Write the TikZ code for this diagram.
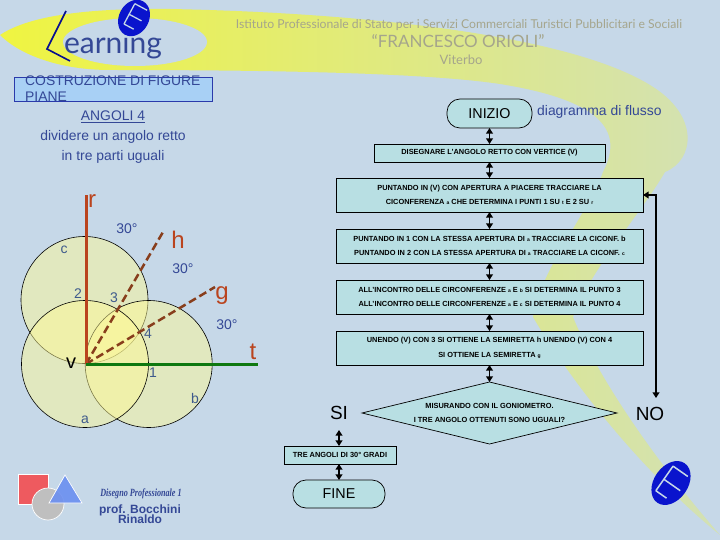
\documentclass[tikz,border=0pt]{standalone}
\usepackage{fontspec}
\setmainfont{Liberation Sans}
\newfontfamily\thinfont{Lato}
\newfontfamily\narrowfont[FakeStretch=0.74]{Liberation Serif}
\usetikzlibrary{shapes.geometric,arrows.meta,positioning,calc}
\definecolor{qsky}{RGB}{198,216,232}
\definecolor{qbox}{RGB}{184,223,227}
\definecolor{qink}{RGB}{52,72,150}
\definecolor{qlabel}{RGB}{62,90,140}
\definecolor{qrust}{RGB}{186,68,30}
\definecolor{qbrown}{RGB}{136,62,28}
\definecolor{qgreen}{RGB}{14,120,16}
\definecolor{qcircle}{RGB}{255,250,150}
\definecolor{qtitle}{RGB}{165,165,140}
\definecolor{qlogo}{RGB}{10,20,205}
\definecolor{qbanner}{RGB}{168,208,245}
\definecolor{qsquare}{RGB}{238,90,95}
\definecolor{qtriangle}{RGB}{107,143,240}

\newcommand{\tinyletter}[1]{{\fontsize{5}{5}\selectfont #1}}

\begin{document}
\begin{tikzpicture}[x=1pt, y=-1pt,
    stepbox/.style={draw, line width=0.8pt, fill=qbox, inner sep=0pt, outer sep=0pt,
                    minimum width=307pt, minimum height=34pt, align=center,
                    font=\fontsize{7.4}{14.6}\selectfont\bfseries},
    terminal/.style={draw, line width=0.7pt, fill=qbox, rounded corners=13pt, inner sep=0pt,
                     outer sep=0pt, minimum height=29pt, font=\fontsize{14.3}{16}\selectfont},
    circ/.style={circle, draw, line width=0.6pt, fill=qcircle, fill opacity=0.49,
                 inner sep=0pt, outer sep=0pt, minimum size=127pt},
    arr/.style={{Triangle[length=2mm,width=2.4mm]}-{Triangle[length=2mm,width=2.4mm]}, line width=1.5pt},
    ray/.style={qbrown, line width=2.5pt, dash pattern=on 8pt off 4pt},
    lab/.style={text=qlabel, inner sep=0pt, font=\fontsize{14}{16}\selectfont},
    deg/.style={text=qink, inner sep=0pt, font=\fontsize{14}{16}\selectfont},
    big/.style={text=qrust, inner sep=0pt, font=\fontsize{24}{26}\selectfont},
    head/.style={text=qink, inner sep=0pt, font=\fontsize{13.9}{16}\selectfont},
    credit/.style={text=qink, inner sep=0pt, font=\fontsize{12}{12}\selectfont\bfseries},
    titletext/.style={text=qtitle, inner sep=0pt}
]
\useasboundingbox (0,0) rectangle (720,540);
\fill[qsky] (0,0) rectangle (720,540);

% Swoosh behind the header
\path[left color=yellow!72!qsky, middle color=yellow!42!qsky, right color=yellow!22!qsky]
    (0,35) .. controls (30,15) and (90,8) .. (170,9)
    .. controls (330,12) and (560,30) .. (650,85)
    .. controls (700,115) and (695,160) .. (665,172)
    .. controls (640,215) and (590,270) .. (573,317)
    .. controls (582,340) and (620,420) .. (720,535)
    .. controls (640,470) and (570,380) .. (533,317)
    .. controls (540,270) and (590,210) .. (603,172)
    .. controls (625,130) and (600,100) .. (500,84)
    .. controls (420,72) and (250,70) .. (110,70)
    .. controls (60,70) and (20,55) .. (0,35) -- cycle;
\fill[qsky] (135,42) ellipse (72pt and 24pt);

% Logo
\draw[qlogo!70!black, line width=1.6pt] (66,11) -- (47,49) -- (70,61);
\node[text=qink, inner sep=0pt, font=\thinfont\fontsize{30}{30}\selectfont] (learning) at (113,45) {earning};
\begin{scope}[shift={(134,18)}, rotate=62]
  \fill[qlogo] (0,0) ellipse (19pt and 15pt);
  \draw[qsky, line width=1.3pt] (13,-6) -- (-10,-6) (13,-6) -- (13,8) (1,-6) -- (1,8) (-10,-6) -- (-10,5);
\end{scope}
\begin{scope}[shift={(671,483)}, rotate=55]
  \fill[qlogo] (0,0) ellipse (24pt and 17pt);
  \draw[qsky, line width=1.5pt] (15,-8) -- (-15,-8) (15,-8) -- (15,10) (-1,-8) -- (-1,12) (-15,-8) -- (-15,5);
\end{scope}

% School name
\node[titletext, font=\thinfont\fontsize{12.2}{14}\selectfont] (school) at (459,25)
    {Istituto Professionale di Stato per i Servizi Commerciali Turistici Pubblicitari e Sociali};
\node[titletext, font=\thinfont\fontsize{17}{18}\selectfont] (oriol) at (458,41) {“FRANCESCO ORIOLI”};
\node[titletext, font=\thinfont\fontsize{13}{15}\selectfont] (viterbo) at (461,60) {Viterbo};

% Heading
\node[draw=qink!80!blue, line width=0.6pt, fill=qbanner,
      minimum width=198pt, minimum height=24pt, inner sep=0pt, outer sep=0pt] (banner) at (113,89) {};
\node[head, anchor=west] (titlea) at (25,81) {COSTRUZIONE DI FIGURE};
\node[head, anchor=west] (titleb) at (25,97) {PIANE};
\node[head] (angoli) at (113,117) {\underline{ANGOLI 4}};
\node[head] (dividere) at (113,137) {dividere un angolo retto};
\node[head] (parti) at (113,157) {in tre parti uguali};

% Construction
\node[circ] (cc) at (84.5,300) {};
\node[circ] (cb) at (148.7,364) {};
\node[circ] (ca) at (85,364) {};
\coordinate (v) at (86,364);
\coordinate (rend) at (86,195);
\coordinate (tend) at (258,364);
\coordinate (hend) at (163,232);
\coordinate (gend) at (215,287);
\draw[ray] (v) -- (hend);
\draw[ray] (v) -- (gend);
\draw[qrust, line width=3pt] (v) -- (rend);
\draw[qgreen, line width=3pt] (v) -- (tend);

\node[big] (lr) at (92,201) {r};
\node[big] (lh) at (178,240) {h};
\node[big] (lg) at (222,296) {g};
\node[big] (lt) at (253,352) {t};
\node[inner sep=0pt, font=\fontsize{20}{22}\selectfont] (lv) at (71,363) {v};
\node[deg] (deg1) at (127,229) {30°};
\node[deg] (deg2) at (183,269) {30°};
\node[deg] (deg3) at (227,325) {30°};
\node[lab] (lc) at (64,250) {c};
\node[lab] (la) at (85,420) {a};
\node[lab] (lb) at (195,398) {b};
\node[lab] (p1) at (153,373) {1};
\node[lab] (p2) at (78,294) {2};
\node[lab] (p3) at (114,298) {3};
\node[lab] (p4) at (148,334) {4};

% Flow chart
\node[terminal, minimum width=85pt] (inizio) at (489.5,113.5) {INIZIO};
\node[head, anchor=west] (flusso) at (537,112) {diagramma di flusso};
\node[stepbox, minimum width=231pt, minimum height=18pt] (disegna) at (489.5,153)
    {DISEGNARE L'ANGOLO RETTO CON VERTICE (V)};
\node[stepbox] (puntov) at (489.5,195)
    {PUNTANDO IN (V) CON APERTURA A PIACERE TRACCIARE LA\\
     CICONFERENZA \tinyletter{a} CHE DETERMINA I PUNTI 1 SU \tinyletter{t} E 2 SU \tinyletter{r}};
\node[stepbox] (puntob) at (489.5,246)
    {PUNTANDO IN 1 CON LA STESSA APERTURA DI \tinyletter{a} TRACCIARE LA CICONF. b\\
     PUNTANDO IN 2 CON LA STESSA APERTURA DI \tinyletter{a} TRACCIARE LA CICONF. \tinyletter{c}};
\node[stepbox] (incontro) at (489.5,297)
    {ALL'INCONTRO DELLE CIRCONFERENZE \tinyletter{a} E \tinyletter{b} SI DETERMINA IL PUNTO 3\\
     ALL'INCONTRO DELLE CIRCONFERENZE \tinyletter{a} E \tinyletter{c} SI DETERMINA IL PUNTO 4};
\node[stepbox] (unendo) at (489.5,348)
    {UNENDO (V) CON 3 SI OTTIENE LA SEMIRETTA h UNENDO (V) CON 4\\
     SI OTTIENE LA SEMIRETTA \tinyletter{g}};
\node[diamond, draw, line width=0.7pt, fill=qbox, aspect=4.1, inner sep=0pt, outer sep=0pt,
      minimum width=255pt, minimum height=62pt] (misura) at (489.5,413) {};
\node[align=center, inner sep=0pt, font=\fontsize{7.4}{14}\selectfont\bfseries] (misuratext) at (489.5,413)
    {MISURANDO CON IL GONIOMETRO.\\I TRE ANGOLO OTTENUTI SONO UGUALI?};
\node[inner sep=0pt, font=\fontsize{19}{21}\selectfont] (si) at (339,413) {SI};
\node[inner sep=0pt, font=\fontsize{19}{21}\selectfont] (no) at (650,414) {NO};
\node[stepbox, minimum width=112pt, minimum height=18pt] (tre) at (340,455) {TRE ANGOLI DI 30° GRADI};
\node[terminal, minimum width=92pt, minimum height=28pt] (fine) at (339,494) {FINE};

\draw[arr] (inizio) -- (disegna);
\draw[arr] (disegna) -- (puntov);
\draw[arr] (puntov) -- (puntob);
\draw[arr] (puntob) -- (incontro);
\draw[arr] (incontro) -- (unendo);
\draw[arr] (unendo) -- (misura);
\coordinate (sifoot) at (339,430);
\draw[arr] (sifoot) -- (tre.north -| sifoot);
\draw[arr] (tre.south -| fine) -- (fine);
\coordinate (nofoot) at (656,398);
\draw[arr] (nofoot) |- (puntov);

% Shapes icon and credits
\fill[qsquare, draw=white, line width=0.7pt] (18,474) rectangle (48,504);
\node[circle, fill=gray!50, draw=white, line width=0.7pt, inner sep=0pt, minimum size=32pt] (disc) at (48,504) {};
\draw[white, fill=qtriangle, fill opacity=0.9, line width=0.7pt] (65,475) -- (49,503) -- (82,503) -- cycle;
\node[text=qink, inner sep=0pt, font=\narrowfont\fontsize{11}{12}\selectfont\bfseries\itshape] (corso) at (141,494) {Disegno Professionale 1};
\node[credit] (prof) at (140,510) {prof. Bocchini};
\node[credit] (rinaldo) at (140,519) {Rinaldo};

\end{tikzpicture}
\end{document}
